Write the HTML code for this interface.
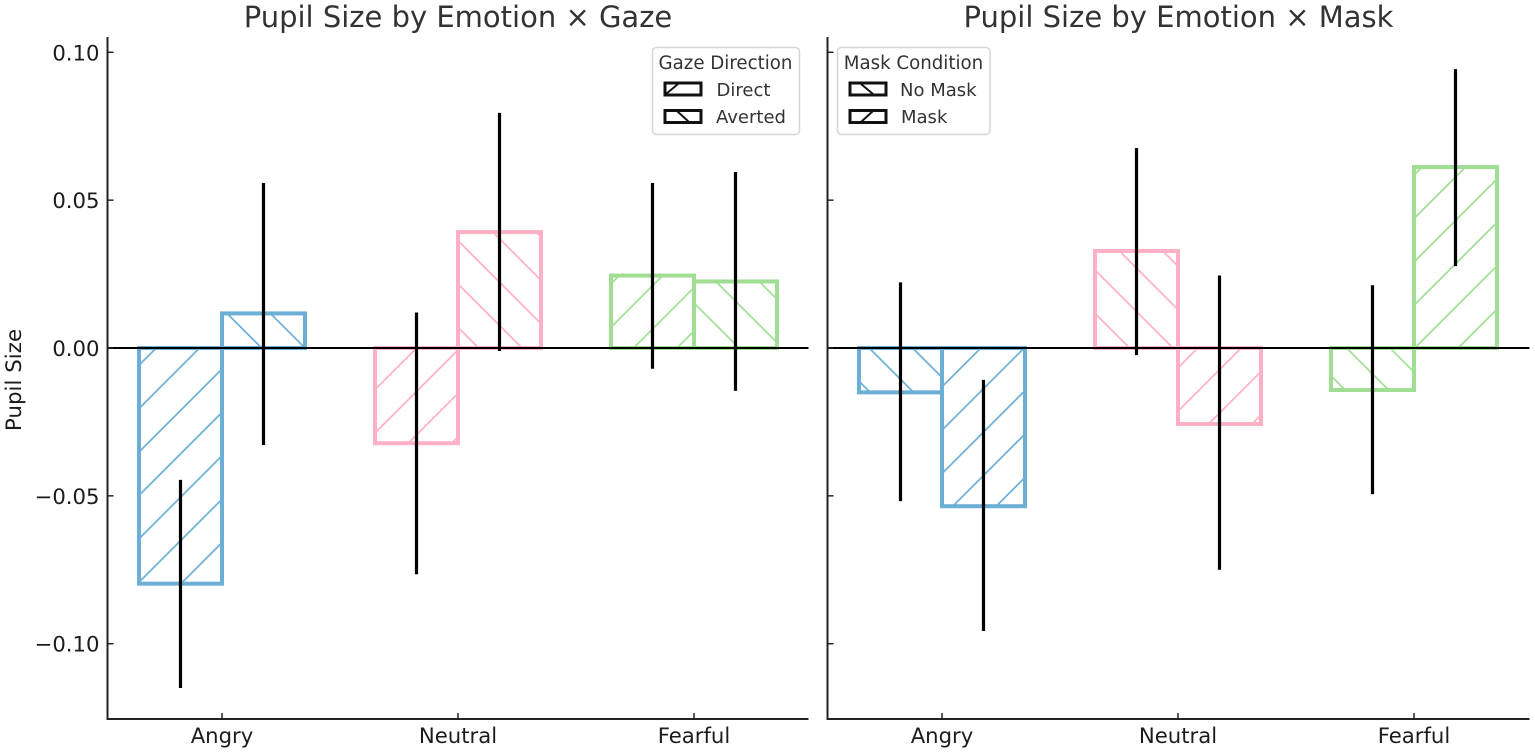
<!DOCTYPE html>
<html>
<head>
<meta charset="utf-8">
<title>Pupil Size by Emotion</title>
<style>
html,body{margin:0;padding:0;background:#fff;width:1535px;height:752px;overflow:hidden}
svg{display:block}
text{font-family:"DejaVu Sans","Liberation Sans",sans-serif;fill:#1c1c1c}
</style>
</head>
<body>
<svg id="chart" xmlns="http://www.w3.org/2000/svg" width="1535" height="752" viewBox="0 0 1535 752">
  <defs>
    <pattern id="h-f-blue" patternUnits="userSpaceOnUse" width="43.4" height="43.4" patternTransform="translate(26.8 0)"><path d="M-2 45.4L45.4 -2M-2 2L2 -2M41.4 45.4L45.4 41.4" stroke="#6BAED6" stroke-width="1.7" fill="none"/></pattern>
    <pattern id="h-b-blue" patternUnits="userSpaceOnUse" width="43.4" height="43.4" patternTransform="translate(0 -0.4)"><path d="M-2 -2L45.4 45.4M-2 41.4L2 45.4M41.4 -2L45.4 2" stroke="#6BAED6" stroke-width="1.7" fill="none"/></pattern>
    <pattern id="h-f-pink" patternUnits="userSpaceOnUse" width="43.4" height="43.4" patternTransform="translate(26.8 0)"><path d="M-2 45.4L45.4 -2M-2 2L2 -2M41.4 45.4L45.4 41.4" stroke="#FFB0C4" stroke-width="1.7" fill="none"/></pattern>
    <pattern id="h-b-pink" patternUnits="userSpaceOnUse" width="43.4" height="43.4" patternTransform="translate(0 -0.4)"><path d="M-2 -2L45.4 45.4M-2 41.4L2 45.4M41.4 -2L45.4 2" stroke="#FFB0C4" stroke-width="1.7" fill="none"/></pattern>
    <pattern id="h-f-green" patternUnits="userSpaceOnUse" width="43.4" height="43.4" patternTransform="translate(26.8 0)"><path d="M-2 45.4L45.4 -2M-2 2L2 -2M41.4 45.4L45.4 41.4" stroke="#A0DE94" stroke-width="1.7" fill="none"/></pattern>
    <pattern id="h-b-green" patternUnits="userSpaceOnUse" width="43.4" height="43.4" patternTransform="translate(0 -0.4)"><path d="M-2 -2L45.4 45.4M-2 41.4L2 45.4M41.4 -2L45.4 2" stroke="#A0DE94" stroke-width="1.7" fill="none"/></pattern>
  </defs>

  <text x="458" y="27" font-size="29" text-anchor="middle" style="fill:#333">Pupil Size by Emotion × Gaze</text>
  <text x="1178.500" y="27" font-size="29" text-anchor="middle" style="fill:#333">Pupil Size by Emotion × Mask</text>
  <text x="0" y="0" font-size="21.4" text-anchor="middle" transform="translate(21 380) rotate(-90)">Pupil Size</text>

  <g id="plots"></g>

  <g>
    <rect x="652.5" y="47.5" width="147" height="87" rx="4" fill="#fff" fill-opacity="0.9" stroke="#d6d6d6" stroke-width="1.5"/>
    <text x="725.5" y="69" font-size="18.2" text-anchor="middle" style="fill:#333">Gaze Direction</text>
    <rect x="665" y="83" width="36" height="12" fill="#fff" stroke="#111" stroke-width="3"/>
    <path d="M666 94L678 84" stroke="#111" stroke-width="1.9"/>
    <text x="716.5" y="96" font-size="18" style="fill:#333">Direct</text>
    <rect x="665" y="110.500" width="36" height="12" fill="#fff" stroke="#111" stroke-width="3"/>
    <path d="M677 111L689 122" stroke="#111" stroke-width="1.9"/>
    <text x="716" y="123" font-size="18" style="fill:#333">Averted</text>
  </g>
  <g>
    <rect x="837.5" y="47.5" width="152.500" height="87" rx="4" fill="#fff" fill-opacity="0.9" stroke="#d6d6d6" stroke-width="1.5"/>
    <text x="913.500" y="69" font-size="18.2" text-anchor="middle" style="fill:#333">Mask Condition</text>
    <rect x="850" y="83" width="36" height="12" fill="#fff" stroke="#111" stroke-width="3"/>
    <path d="M861 84L873 94" stroke="#111" stroke-width="1.9"/>
    <text x="900" y="96" font-size="18" style="fill:#333">No Mask</text>
    <rect x="850" y="110.500" width="36" height="12" fill="#fff" stroke="#111" stroke-width="3"/>
    <path d="M861 122L873 111" stroke="#111" stroke-width="1.9"/>
    <text x="901" y="123" font-size="18" style="fill:#333">Mask</text>
  </g>
</svg>
<script>
var categories = ["Angry", "Neutral", "Fearful"];
var yTickValues = [0.10, 0.05, 0.00, -0.05, -0.10];
var yTickLabels = ["0.10", "0.05", "0.00", "\u22120.05", "\u22120.10"];

var gazeDirect = [-0.0797, -0.0322, 0.0245];
var gazeDirectLow = [-0.1150, -0.0765, -0.0070];
var gazeDirectHigh = [-0.0446, 0.0120, 0.0558];
var gazeAverted = [0.0117, 0.0392, 0.0225];
var gazeAvertedLow = [-0.0328, -0.0010, -0.0145];
var gazeAvertedHigh = [0.0558, 0.0795, 0.0595];

var maskNone = [-0.0150, 0.0328, -0.0142];
var maskNoneLow = [-0.0518, -0.0024, -0.0494];
var maskNoneHigh = [0.0222, 0.0676, 0.0212];
var maskWorn = [-0.0535, -0.0257, 0.0612];
var maskWornLow = [-0.0957, -0.0750, 0.0277];
var maskWornHigh = [-0.0108, 0.0245, 0.0943];

var NS = "http://www.w3.org/2000/svg";
var root = document.getElementById("plots");
var colorNames = ["blue", "pink", "green"];
var colorValues = ["#6BAED6", "#FFB0C4", "#A0DE94"];

function yScale(v) { return 348 - v * 2957; }
function xScale(panelLeft, i) { return panelLeft + 114.5 + i * 236; }

function mk(tag, attrs, parent) {
  var el = document.createElementNS(NS, tag);
  for (var k in attrs) el.setAttribute(k, attrs[k]);
  parent.appendChild(el);
  return el;
}

function drawPanel(key, panelLeft, panelWidth, showLabels, series) {
  var g = mk("g", {}, root);
  
  
  var barW = 83;

  series.forEach(function (s) {
    s.values.forEach(function (v, i) {
      var cx = xScale(panelLeft, i);
      var x0 = s.side < 0 ? cx - barW : cx;
      var top = Math.min(yScale(v), yScale(0));
      var h = Math.abs(yScale(v) - yScale(0));
      var fillRect = mk("rect", { x: x0, y: top, width: barW, height: h, fill: "url(#h-" + s.hatch + "-" + colorNames[i] + ")", stroke: colorValues[i], "stroke-width": 4 }, g);
      
      
    });
  });

  var zero = mk("line", { x1: panelLeft, x2: panelLeft + panelWidth, y1: yScale(0), y2: yScale(0), stroke: "#000", "stroke-width": 2 }, g);
  
  

  series.forEach(function (s) {
    s.values.forEach(function (v, i) {
      var cx = xScale(panelLeft, i) + s.side * barW / 2;
      var err = mk("line", { x1: cx, x2: cx, y1: yScale(s.low[i]), y2: yScale(s.high[i]), stroke: "#000", "stroke-width": 3.2 }, g);
      
      
    });
  });

  var axisY = mk("line", { x1: panelLeft, x2: panelLeft, y1: 37, y2: 719, stroke: "#222", "stroke-width": 2 }, g);
  
  
  var axisX = mk("line", { x1: panelLeft - 1, x2: panelLeft + panelWidth, y1: 719, y2: 719, stroke: "#222", "stroke-width": 2 }, g);
  
  

  yTickValues.forEach(function (t, i) {
    var tick = mk("line", { x1: panelLeft, x2: panelLeft + 6, y1: yScale(t), y2: yScale(t), stroke: "#222", "stroke-width": 1.5 }, g);
    
    
    if (showLabels) {
      var lab = mk("text", { x: panelLeft - 8, y: yScale(t) + 8, "font-size": 21.2, "text-anchor": "end" }, g);
      lab.textContent = yTickLabels[i];
      
      
    }
  });

  categories.forEach(function (c, i) {
    var cx = xScale(panelLeft, i);
    var tick = mk("line", { x1: cx, x2: cx, y1: 719, y2: 713, stroke: "#222", "stroke-width": 1.5 }, g);
    
    
    var lab = mk("text", { x: cx, y: 743, "font-size": 21.2, "text-anchor": "middle" }, g);
    lab.textContent = c;
    
    
  });
}

drawPanel("gaze", 107.5, 701, true, [
  { name: "direct", side: -1, hatch: "f", values: gazeDirect, low: gazeDirectLow, high: gazeDirectHigh },
  { name: "averted", side: 1, hatch: "b", values: gazeAverted, low: gazeAvertedLow, high: gazeAvertedHigh }
]);
drawPanel("mask", 827.5, 702, false, [
  { name: "no-mask", side: -1, hatch: "b", values: maskNone, low: maskNoneLow, high: maskNoneHigh },
  { name: "mask", side: 1, hatch: "f", values: maskWorn, low: maskWornLow, high: maskWornHigh }
]);
</script>
</body>
</html>
